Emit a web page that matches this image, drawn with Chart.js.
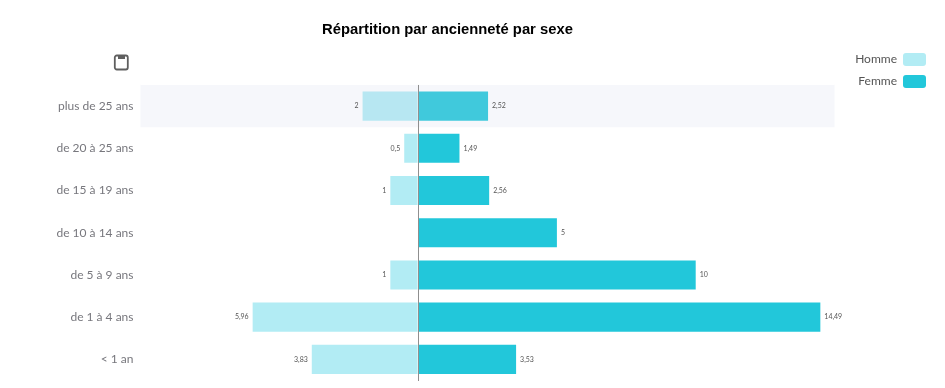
<!DOCTYPE html>
<html>
<head>
<meta charset="utf-8">
<title>Répartition par ancienneté par sexe</title>
<script src="https://cdn.jsdelivr.net/npm/chart.js"></script>
<style>
    html, body { margin: 0; padding: 0; background: #fff; }
    #wrap { position: relative; width: 945px; height: 388px; overflow: hidden; }
    #saveIcon { position: absolute; left: 113px; top: 53px; }
</style>
</head>
<body>
<div id="wrap">
    <canvas id="ageChart" width="945" height="388"></canvas>
    <svg id="saveIcon" width="17" height="18" viewBox="0 0 17 18">
        <rect x="1.8" y="2.5" width="13" height="14" rx="2" fill="none" stroke="#5f5f5f" stroke-width="1.8"/>
        <rect x="5" y="2.5" width="7" height="3.5" fill="#5f5f5f"/>
    </svg>
</div>
<script>
const categories = ['plus de 25 ans', 'de 20 à 25 ans', 'de 15 à 19 ans', 'de 10 à 14 ans', 'de 5 à 9 ans', 'de 1 à 4 ans', '< 1 an'];
// Homme goes left of the axis, so values are negative
const hommeValues = [-2, -0.5, -1, null, -1, -5.96, -3.83];
const femmeValues = [2.52, 1.49, 2.56, 5, 10, 14.49, 3.53];
const highlightedIndex = 0;

const formatValue = (v) => String(Math.abs(v)).replace('.', ',');

// pale band over the hovered row, drawn on top of the bars like the original
const bandPlugin = {
    id: 'band',
    afterDatasetsDraw(chart) {
        const { ctx, chartArea, scales } = chart;
        const half = (scales.y.getPixelForValue(1) - scales.y.getPixelForValue(0)) / 2;
        const mid = scales.y.getPixelForValue(highlightedIndex);
        ctx.save();
        ctx.fillStyle = 'rgba(205, 212, 235, 0.18)';
        ctx.fillRect(chartArea.left, mid - half, chartArea.width, half * 2);
        ctx.restore();
    }
};

const valueLabels = {
    id: 'valueLabels',
    afterDraw(chart) {
        const { ctx } = chart;
        ctx.save();
        ctx.font = '7px Lato';
        ctx.fillStyle = '#555';
        ctx.textBaseline = 'middle';
        chart.data.datasets.forEach((ds, i) => {
            chart.getDatasetMeta(i).data.forEach((bar, j) => {
                const v = ds.data[j];
                if (v === null) return;
                ctx.textAlign = v < 0 ? 'right' : 'left';
                ctx.fillText(formatValue(v), bar.x + (v < 0 ? -4 : 4), bar.y);
            });
        });
        ctx.restore();
    }
};

// title and legend do not follow the plot area, put them where they belong
const placeBoxes = {
    id: 'placeBoxes',
    afterLayout(chart) {
        chart.titleBlock.left = 0;
        chart.titleBlock.right = 895;
        const w = chart.legend.width;
        chart.legend.left = 935 - w;
        chart.legend.right = 935;
        chart.legend.top = 44;
        chart.legend.bottom = 44 + chart.legend.height;
    }
};

new Chart(document.getElementById('ageChart'), {
    type: 'bar',
    data: {
        labels: categories,
        datasets: [
            { label: 'Homme', data: hommeValues, backgroundColor: '#b2ecf4' },
            { label: 'Femme', data: femmeValues, backgroundColor: '#22c7da' }
        ]
    },
    options: {
        indexAxis: 'y',
        responsive: false,
        animation: false,
        layout: { padding: { top: 0, right: 110.5, bottom: 7.5, left: 0 } },
        datasets: { bar: { categoryPercentage: 1, barPercentage: 0.69 } },
        scales: {
            x: {
                stacked: true,
                min: -10,
                max: 15,
                afterFit(scale) {
                    scale.height = 0;
                    scale.paddingBottom = 0;
                    scale.paddingTop = 0;
                },
                ticks: { display: false, stepSize: 5 },
                border: { display: false },
                grid: {
                    z: 1,
                    drawTicks: false,
                    lineWidth: 1,
                    color: (c) => (c.tick && c.tick.value === 0 ? '#8f8f8f' : 'transparent')
                }
            },
            y: {
                stacked: true,
                afterFit(scale) {
                    scale.width = 140.5;
                    // label margins were eating the bottom of the plot
                    scale.paddingBottom = 0;
                    scale.paddingTop = 0;
                },
                border: { display: false },
                grid: { display: false, drawTicks: false },
                ticks: { padding: 7, color: '#77777d', font: { family: 'Lato', size: 12 } }
            }
        },
        plugins: {
            title: {
                display: true,
                text: 'Répartition par ancienneté par sexe',
                color: '#000',
                font: { family: 'Liberation Sans', size: 14.8, weight: 'bold' },
                padding: { top: 21, bottom: 46.2 }
            },
            legend: {
                position: 'chartArea',
                align: 'start',
                rtl: true,
                labels: {
                    boxWidth: 23,
                    boxHeight: 13,
                    padding: 9,
                    useBorderRadius: true,
                    borderRadius: 3,
                    color: '#555',
                    font: { family: 'Lato', size: 12 }
                }
            },
            tooltip: { enabled: false }
        }
    },
    plugins: [bandPlugin, valueLabels, placeBoxes]
});
</script>
</body>
</html>
